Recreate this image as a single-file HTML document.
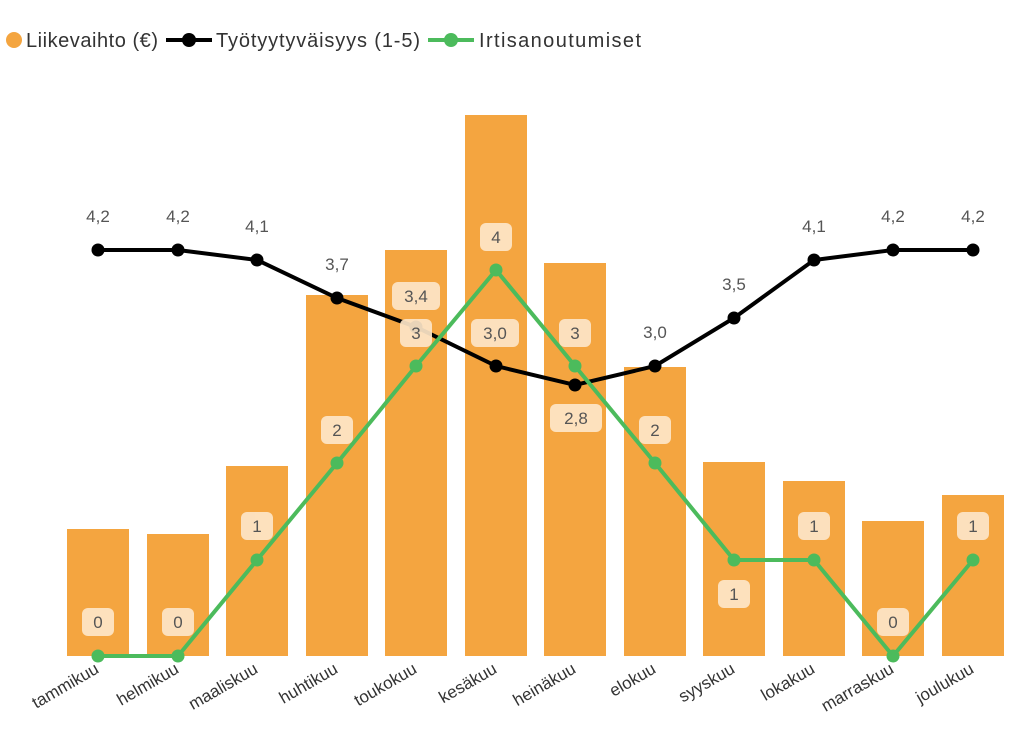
<!DOCTYPE html>
<html><head><meta charset="utf-8"><style>
body{margin:0;background:#fff}
svg{display:block;font-family:"Liberation Sans","DejaVu Sans",sans-serif}
</style></head><body>
<svg width="1024" height="748" viewBox="0 0 1024 748">
<g font-size="20" fill="#333">
<circle cx="14" cy="40" r="8" fill="#F4A540"/>
<text x="26" y="47" textLength="132">Liikevaihto (€)</text>
<line x1="166" y1="40" x2="212" y2="40" stroke="#000" stroke-width="4"/>
<circle cx="189" cy="40" r="7" fill="#000"/>
<text x="216" y="47" textLength="204">Työtyytyväisyys (1-5)</text>
<line x1="428" y1="40" x2="474" y2="40" stroke="#4CBB5C" stroke-width="4"/>
<circle cx="451" cy="40" r="7" fill="#4CBB5C"/>
<text x="479" y="47" textLength="162">Irtisanoutumiset</text>
</g>
<g fill="#F4A540">
<rect x="67" y="529" width="62" height="127"/>
<rect x="147" y="534" width="62" height="122"/>
<rect x="226" y="466" width="62" height="190"/>
<rect x="306" y="295" width="62" height="361"/>
<rect x="385" y="250" width="62" height="406"/>
<rect x="465" y="115" width="62" height="541"/>
<rect x="544" y="263" width="62" height="393"/>
<rect x="624" y="367" width="62" height="289"/>
<rect x="703" y="462" width="62" height="194"/>
<rect x="783" y="481" width="62" height="175"/>
<rect x="862" y="521" width="62" height="135"/>
<rect x="942" y="495" width="62" height="161"/>
</g>
<polyline fill="none" stroke="#000" stroke-width="4" points="98,250 178,250 257,260 337,298 416,327 496,366 575,385 655,366 734,318 814,260 893,250 973,250"/>
<g fill="#000">
<circle cx="98" cy="250" r="6.5"/><circle cx="178" cy="250" r="6.5"/><circle cx="257" cy="260" r="6.5"/><circle cx="337" cy="298" r="6.5"/><circle cx="416" cy="327" r="6.5"/><circle cx="496" cy="366" r="6.5"/><circle cx="575" cy="385" r="6.5"/><circle cx="655" cy="366" r="6.5"/><circle cx="734" cy="318" r="6.5"/><circle cx="814" cy="260" r="6.5"/><circle cx="893" cy="250" r="6.5"/><circle cx="973" cy="250" r="6.5"/>
</g>
<polyline fill="none" stroke="#4CBB5C" stroke-width="4" points="98,656 178,656 257,560 337,463 416,366 496,270 575,366 655,463 734,560 814,560 893,656 973,560"/>
<g fill="#4CBB5C">
<circle cx="98" cy="656" r="6.5"/><circle cx="178" cy="656" r="6.5"/><circle cx="257" cy="560" r="6.5"/><circle cx="337" cy="463" r="6.5"/><circle cx="416" cy="366" r="6.5"/><circle cx="496" cy="270" r="6.5"/><circle cx="575" cy="366" r="6.5"/><circle cx="655" cy="463" r="6.5"/><circle cx="734" cy="560" r="6.5"/><circle cx="814" cy="560" r="6.5"/><circle cx="893" cy="656" r="6.5"/><circle cx="973" cy="560" r="6.5"/>
</g>
<g font-size="17" fill="#555" text-anchor="middle">
<text x="98" y="222">4,2</text><text x="178" y="222">4,2</text><text x="257" y="232">4,1</text><text x="337" y="270">3,7</text>
<text x="655" y="338">3,0</text><text x="734" y="290">3,5</text><text x="814" y="232">4,1</text><text x="893" y="222">4,2</text><text x="973" y="222">4,2</text>
</g>
<g fill="#FDE6C8" opacity="0.92">
<rect x="392" y="282" width="48" height="28" rx="6"/>
<rect x="471" y="319" width="48" height="28" rx="6"/>
<rect x="550" y="404" width="52" height="28" rx="6"/>
<rect x="82" y="608" width="32" height="28" rx="6"/>
<rect x="162" y="608" width="32" height="28" rx="6"/>
<rect x="241" y="512" width="32" height="28" rx="6"/>
<rect x="321" y="416" width="32" height="28" rx="6"/>
<rect x="400" y="319" width="32" height="28" rx="6"/>
<rect x="480" y="223" width="32" height="28" rx="6"/>
<rect x="559" y="319" width="32" height="28" rx="6"/>
<rect x="639" y="416" width="32" height="28" rx="6"/>
<rect x="718" y="580" width="32" height="28" rx="6"/>
<rect x="798" y="512" width="32" height="28" rx="6"/>
<rect x="877" y="608" width="32" height="28" rx="6"/>
<rect x="957" y="512" width="32" height="28" rx="6"/>
</g>
<g font-size="17" fill="#555" text-anchor="middle">
<text x="416" y="302">3,4</text><text x="495" y="339">3,0</text><text x="576" y="424">2,8</text>
<text x="98" y="628">0</text><text x="178" y="628">0</text><text x="257" y="532">1</text><text x="337" y="436">2</text><text x="416" y="339">3</text><text x="496" y="243">4</text><text x="575" y="339">3</text><text x="655" y="436">2</text><text x="734" y="600">1</text><text x="814" y="532">1</text><text x="893" y="628">0</text><text x="973" y="532">1</text>
</g>
<g font-size="17" fill="#333" text-anchor="end">
<text transform="translate(100,672) rotate(-30)">tammikuu</text>
<text transform="translate(180,672) rotate(-30)">helmikuu</text>
<text transform="translate(259,672) rotate(-30)">maaliskuu</text>
<text transform="translate(339,672) rotate(-30)">huhtikuu</text>
<text transform="translate(418,672) rotate(-30)">toukokuu</text>
<text transform="translate(498,672) rotate(-30)">kesäkuu</text>
<text transform="translate(577,672) rotate(-30)">heinäkuu</text>
<text transform="translate(657,672) rotate(-30)">elokuu</text>
<text transform="translate(736,672) rotate(-30)">syyskuu</text>
<text transform="translate(816,672) rotate(-30)">lokakuu</text>
<text transform="translate(895,672) rotate(-30)">marraskuu</text>
<text transform="translate(975,672) rotate(-30)">joulukuu</text>
</g>
</svg>
</body></html>
